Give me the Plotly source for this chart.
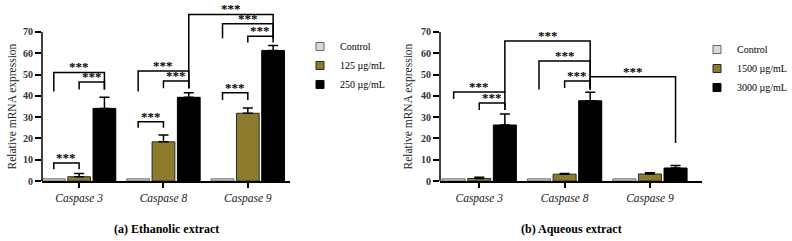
import plotly.graph_objects as go

# ---------------- data ----------------
categories = ["Caspase 3", "Caspase 8", "Caspase 9"]

# (a) Ethanolic extract
eth_names = ["Control", "125 µg/mL", "250 µg/mL"]
eth_control = [1.0, 1.0, 1.0]
eth_low = [2.0, 18.4, 31.8]
eth_high = [34.1, 39.3, 61.3]
eth_control_err = [0.0, 0.0, 0.0]
eth_low_err = [1.5, 3.2, 2.5]
eth_high_err = [5.2, 2.2, 2.3]

# (b) Aqueous extract
aq_names = ["Control", "1500 µg/mL", "3000 µg/mL"]
aq_control = [1.0, 1.0, 1.0]
aq_low = [1.2, 3.2, 3.3]
aq_high = [26.3, 37.7, 6.1]
aq_control_err = [0.0, 0.0, 0.0]
aq_low_err = [0.6, 0.3, 0.6]
aq_high_err = [5.2, 4.0, 1.2]

y_ticks = [0, 10, 20, 30, 40, 50, 60, 70]

# significance brackets: (cat_a, group_a, cat_b, group_b, y_top, y_leg_a, y_leg_b, label)
eth_brackets = [
    (0, 0, 0, 1, 8.5, 5.5, 5.5, "***"),
    (0, 1, 0, 2, 46.5, 43.0, 43.0, "***"),
    (0, 0, 0, 2, 51.0, 42.0, 43.0, "***"),
    (1, 0, 1, 1, 27.8, 25.0, 25.0, "***"),
    (1, 1, 1, 2, 47.0, 43.5, 43.5, "***"),
    (1, 0, 1, 2, 51.6, 42.0, 43.5, "***"),
    (1, 2, 2, 2, 78.2, 43.5, 67.0, "***"),
    (2, 0, 2, 2, 73.8, 67.0, 67.0, "***"),
    (2, 1, 2, 2, 68.0, 65.0, 65.0, "***"),
    (2, 0, 2, 1, 41.4, 38.0, 38.0, "***"),
]
aq_brackets = [
    (0, 1, 0, 2, 36.6, 33.4, 33.4, "***"),
    (0, 0, 0, 2, 41.8, 38.5, 33.4, "***"),
    (0, 2, 1, 2, 65.8, 41.8, 42.8, "***"),
    (1, 0, 1, 2, 56.4, 43.0, 42.8, "***"),
    (1, 1, 1, 2, 47.0, 43.7, 43.7, "***"),
    (1, 2, 2, 2, 48.9, 44.0, 17.8, "***"),
]

# ---------------- style ----------------
FONT = "Liberation Serif"
colors = ["#d9d9d9", "#8d7b2d", "#000000"]
outlines = ["#666666", "#2a2a2a", "#000000"]
SLOT = 0.3  # group slot width in category units (bargap 0.1, 3 bars)

fig = go.Figure()


def add_panel(xa, ya, names, vals, errs, legend):
    for g in range(3):
        fig.add_trace(go.Bar(
            x=list(range(len(categories))), y=vals[g], name=names[g],
            marker=dict(color=colors[g], line=dict(color=outlines[g], width=1)),
            error_y=dict(type="data", array=errs[g], arrayminus=[0] * len(errs[g]),
                         symmetric=False, color="#000000", thickness=1.5, width=5,
                         visible=any(e > 0 for e in errs[g])),
            xaxis=xa, yaxis=ya, showlegend=False,
        ))
        fig.add_trace(go.Scatter(
            x=[None], y=[None], mode="markers", name=names[g],
            marker=dict(symbol="square", size=8, color=colors[g],
                        line=dict(color=outlines[g], width=1)),
            xaxis=xa, yaxis=ya, legend=legend, showlegend=True,
        ))


add_panel("x", "y", eth_names, [eth_control, eth_low, eth_high],
          [eth_control_err, eth_low_err, eth_high_err], "legend")
add_panel("x2", "y2", aq_names, [aq_control, aq_low, aq_high],
          [aq_control_err, aq_low_err, aq_high_err], "legend2")

shapes = []
annotations = []


def add_brackets(brackets, xr, yr):
    for ca, ga, cb, gb, ytop, yla, ylb, lab in brackets:
        xa_ = ca + (ga - 1) * SLOT
        xb_ = cb + (gb - 1) * SLOT
        path = f"M {xa_},{yla} L {xa_},{ytop} L {xb_},{ytop} L {xb_},{ylb}"
        shapes.append(dict(type="path", path=path, xref=xr, yref=yr,
                           line=dict(color="#000000", width=1.5)))
        annotations.append(dict(x=(xa_ + xb_) / 2, y=ytop, xref=xr, yref=yr,
                                text=f"<b>{lab}</b>", showarrow=False,
                                xanchor="center", yanchor="bottom", yshift=-4,
                                font=dict(family=FONT, size=13, color="#000000")))


add_brackets(eth_brackets, "x", "y")
add_brackets(aq_brackets, "x2", "y2")

# visible y-axis line (0..70) drawn against the axis scale
for xr, yr in (("x domain", "y"), ("x2 domain", "y2")):
    shapes.append(dict(type="line", xref=xr, yref=yr, x0=0, x1=0,
                       y0=y_ticks[0], y1=y_ticks[-1],
                       line=dict(color="#000000", width=1.5)))

# axis titles and panel captions
for xp, yr, txt in ((12 / 792, "y", "Relative mRNA expression"),
                    (408 / 792, "y2", "Relative mRNA expression")):
    annotations.append(dict(x=xp, xref="paper", y=35, yref=yr,
                            xanchor="center", yanchor="middle",
                            text=txt, textangle=-90, showarrow=False,
                            font=dict(family=FONT, size=11.5, color="#222222")))
for xp, txt in ((166 / 792, "(a) Ethanolic extract"),
                (571 / 792, "(b) Aqueous extract")):
    annotations.append(dict(x=xp, xref="paper", y=(181 - 229) / 181, yref="paper",
                            xanchor="center", yanchor="middle",
                            text=f"<b>{txt}</b>", showarrow=False,
                            font=dict(family=FONT, size=12, color="#000000")))

xaxis_common = dict(
    tickmode="array", tickvals=list(range(len(categories))),
    ticktext=[f"<i>{c}</i>" for c in categories],
    tickfont=dict(family=FONT, size=11.5, color="#222222"),
    showline=True, linecolor="#000000", linewidth=1.5,
    ticks="outside", ticklen=5, tickwidth=1.5, tickcolor="#000000",
    showgrid=False, zeroline=False, automargin=False,
)
yaxis_common = dict(
    range=[0, 85], tickmode="array", tickvals=y_ticks,
    ticktext=[f"<b>{t}</b>" for t in y_ticks],
    tickfont=dict(family=FONT, size=10, color="#333333"),
    showline=False, ticks="outside", ticklen=6, tickwidth=1.5, tickcolor="#000000",
    showgrid=False, zeroline=False, automargin=False,
)

fig.update_layout(
    width=792, height=241,
    margin=dict(l=0, r=0, t=0, b=60, autoexpand=False),
    paper_bgcolor="#ffffff", plot_bgcolor="#ffffff",
    barmode="group", bargap=0.1, bargroupgap=0.1,
    xaxis=dict(domain=[42 / 792, 290 / 792], range=[-0.44, 2.5], **xaxis_common),
    xaxis2=dict(domain=[440 / 792, 702 / 792], range=[-0.46, 2.61], anchor="y2",
                **xaxis_common),
    yaxis=dict(anchor="x", **yaxis_common),
    yaxis2=dict(anchor="x2", **yaxis_common),
    legend=dict(x=300 / 792, xanchor="left", y=1 - 32 / 181, yanchor="top",
                font=dict(family=FONT, size=10, color="#000000"),
                bgcolor="rgba(0,0,0,0)", tracegroupgap=0),
    legend2=dict(x=697 / 792, xanchor="left", y=1 - 35 / 181, yanchor="top",
                 font=dict(family=FONT, size=10, color="#000000"),
                 bgcolor="rgba(0,0,0,0)", tracegroupgap=0),
    shapes=shapes, annotations=annotations,
    font=dict(family=FONT),
)

# remove the browser's default page margin so the figure sits at the window origin
fig.write_html("out.html",
               config={"displayModeBar": False},
               post_script="document.body.style.margin='0px';"
                           "document.body.style.overflow='hidden';")
